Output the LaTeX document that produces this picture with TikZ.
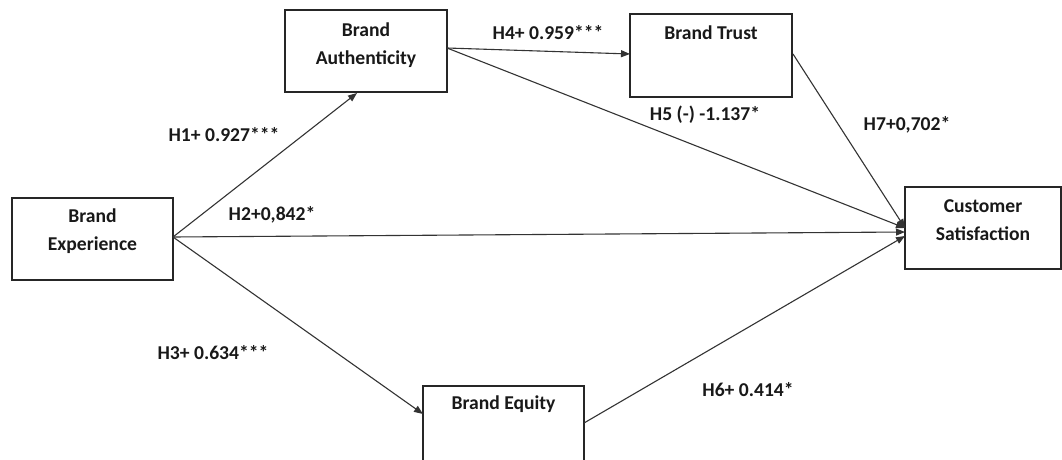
\documentclass[tikz,border=0pt]{standalone}
\usepackage{fontspec}
\setmainfont{Carlito}
\usetikzlibrary{arrows.meta}
\begin{document}
\begin{tikzpicture}[x=1pt,y=-1pt,
  box/.style={draw=black!85,line width=1.3pt,rectangle,inner sep=0pt},
  txt/.style={font=\bfseries\fontsize{19.6}{28}\selectfont,align=center,text=black!90,inner sep=0pt},
  lbl/.style={font=\bfseries\fontsize{19.6}{24}\selectfont,text=black!90,inner sep=0pt},
  link/.style={draw=black!80,line width=1.1pt,-{Triangle[length=9pt,width=7pt]}}]
\useasboundingbox (0,0) rectangle (1062,460);
\clip (0,0) rectangle (1062,460);
\fill[white] (0,0) rectangle (1062,460);

% construct boxes
\node[box,minimum width=162pt,minimum height=82pt] (ba) at (366,51) {};
\node[box,minimum width=162pt,minimum height=83pt] (bt) at (711,55.5) {};
\node[box,minimum width=161pt,minimum height=82pt] (be) at (92.5,239) {};
\node[box,minimum width=156pt,minimum height=82pt] (cs) at (983,228) {};
\node[box,minimum width=161pt,minimum height=100pt] (beq) at (503.5,436) {};

% construct names
\node[txt] (bat) at (366,45) {Brand\\Authenticity};
\node[txt] (btt) at (711,33) {Brand Trust};
\node[txt] (bet) at (92.5,231) {Brand\\Experience};
\node[txt] (cst) at (983,220) {Customer\\Satisfaction};
\node[txt] (beqt) at (503.5,404) {Brand Equity};

% anchor points on the box edges
\coordinate (beR) at (173,237);
\coordinate (baB) at (357,93);
\coordinate (baR) at (447,48);
\coordinate (btL) at (630,54);
\coordinate (btR) at (793,54);
\coordinate (csA) at (905,228);
\coordinate (csB) at (905,232);
\coordinate (csC) at (905,236);
\coordinate (beqL) at (423,414);
\coordinate (beqR) at (584,423);

% paths
\draw[link] (beR) -- (baB);
\draw[link] (beR) -- (csB);
\draw[link] (beR) -- (beqL);
\draw[link] (baR) -- (btL);
\draw[link] (baR) -- (csA);
\draw[link] (btR) -- (csA);
\draw[link] (beqR) -- (csC);

% path coefficients
\node[lbl] (h1) at (224,135) {H1+ 0.927***};
\node[lbl] (h2) at (272,215) {H2+0,842*};
\node[lbl] (h3) at (213,353) {H3+ 0.634***};
\node[lbl] (h4) at (548,33) {H4+ 0.959***};
\node[lbl] (h5) at (705,115) {H5 (-) -1.137*};
\node[lbl] (h7) at (907,125) {H7+0,702*};
\node[lbl] (h6) at (748,390) {H6+ 0.414*};
\end{tikzpicture}
\end{document}
